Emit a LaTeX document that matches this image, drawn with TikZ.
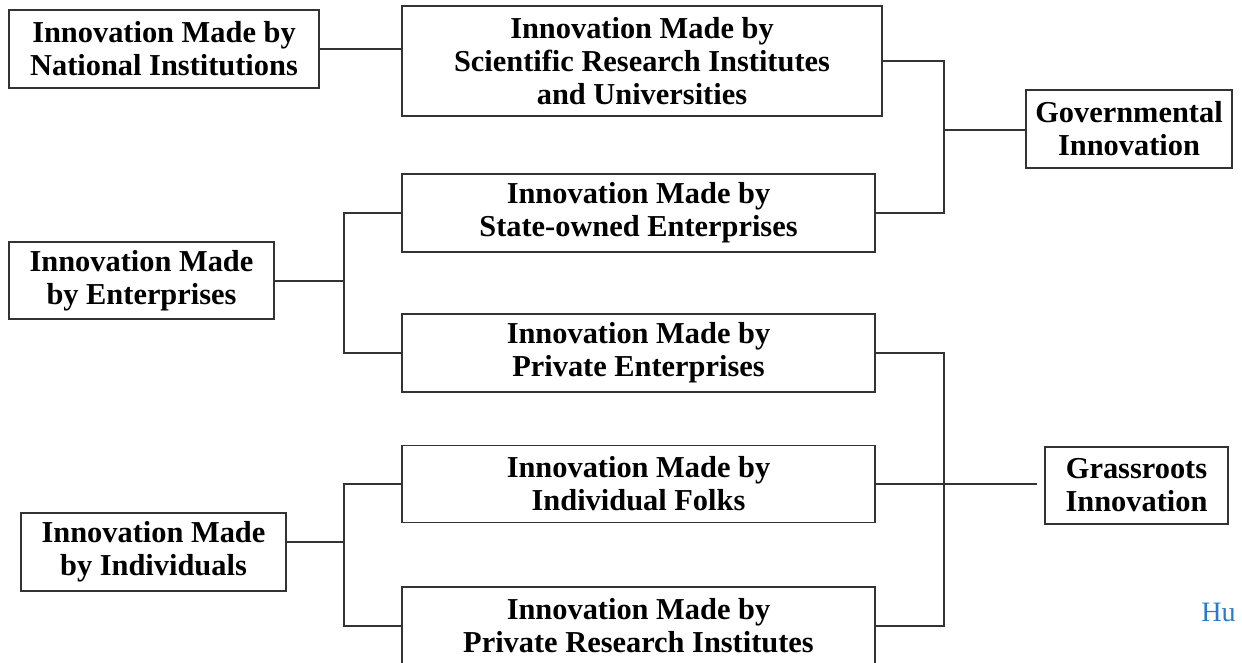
\documentclass[tikz,border=0pt]{standalone}
\usepackage{fontspec}
\setmainfont{Liberation Serif}
\definecolor{linegray}{HTML}{333333}
\definecolor{hublue}{HTML}{2A7AC8}
\begin{document}
\begin{tikzpicture}[x=0.02cm,y=-0.02cm,
  ibox/.style={draw=linegray,line width=0.75pt,fill=white,inner sep=0pt,align=center,
    font=\fontsize{17.3}{18.8}\selectfont\bfseries},
  conn/.style={draw=linegray,line width=0.75pt}]
\useasboundingbox (0,0) rectangle (1242,663);
\node[ibox,minimum width=310*0.02cm,minimum height=78*0.02cm] (b1) at (164,49) {Innovation Made by\\National Institutions};
\node[ibox,minimum width=480*0.02cm,minimum height=110*0.02cm] (b2) at (642,61) {Innovation Made by\\Scientific Research Institutes\\and Universities};
\node[ibox,minimum width=206*0.02cm,minimum height=78*0.02cm] (gov) at (1129,129) {Governmental\\Innovation};
\node[ibox,minimum width=473*0.02cm,minimum height=78*0.02cm] (b4) at (638.5,213) {Innovation Made by\\State-owned Enterprises};
\node[ibox,minimum width=265*0.02cm,minimum height=77*0.02cm] (ent) at (141.5,280.5) {Innovation Made\\by Enterprises};
\node[ibox,minimum width=473*0.02cm,minimum height=78*0.02cm] (b6) at (638.5,353) {Innovation Made by\\Private Enterprises};
\node[ibox,minimum width=473*0.02cm,minimum height=77*0.02cm] (b7) at (638.5,484) {Innovation Made by\\Individual Folks};
\node[ibox,minimum width=183*0.02cm,minimum height=77*0.02cm] (grass) at (1136.5,485.5) {Grassroots\\Innovation};
\node[ibox,minimum width=265*0.02cm,minimum height=78*0.02cm] (ind) at (153.5,552) {Innovation Made\\by Individuals};
\node[ibox,minimum width=473*0.02cm,minimum height=78*0.02cm] (b10) at (638.5,626) {Innovation Made by\\Private Research Institutes};
\node[anchor=base west,inner sep=0pt,text=hublue,font=\fontsize{16}{18}\selectfont] (hu) at (1201,621) {Hu};
% connectors
\draw[conn] (b1.east) -- (b2.west |- b1.east);
\coordinate (gj) at (944,130);
\draw[conn] (b2.east) -| (gj);
\draw[conn] (b4.east) -| (gj);
\draw[conn] (gj) -- (gov.west |- gj);
\coordinate (ej) at (344,281);
\draw[conn] (ent.east |- ej) -- (ej);
\draw[conn] (ej) |- (b4.west);
\draw[conn] (ej) |- (b6.west);
\coordinate (ij) at (344,542);
\draw[conn] (ind.east |- ij) -- (ij);
\draw[conn] (ij) |- (b7.west);
\draw[conn] (ij) |- (b10.west);
\coordinate (gr) at (944,484);
\draw[conn] (b6.east) -| (gr);
\draw[conn] (b10.east) -| (gr);
\draw[conn] (b7.east) -- (gr);
\draw[conn,shorten >=0.14cm] (gr) -- (grass.west |- gr);
\end{tikzpicture}
\end{document}
